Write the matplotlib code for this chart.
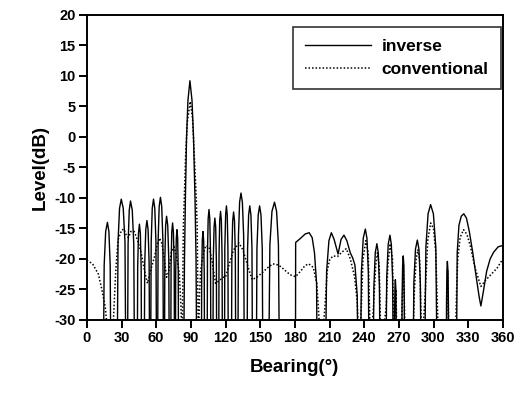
import numpy as np
import matplotlib
matplotlib.use("Agg")
import matplotlib.pyplot as plt

plt.rcParams['font.family'] = ['Liberation Sans', 'DejaVu Sans']
plt.rcParams['axes.unicode_minus'] = False

# inverse beamformer output (bearing in deg, level in dB); values below -30 are clipped nulls
inv_bearing = [0,
               14, 15.0, 16.3, 17.8, 19.1, 20.2, 21,
               26, 27.0, 28.3, 29.8, 31.5, 33.0, 34,
               35, 35.7, 36.7, 37.8, 39.3, 40.6, 41.5,
               43.5, 44.0, 44.7, 45.5, 46.3, 47.0, 47.5,
               49.5, 50.1, 51.0, 52, 53.0, 53.9, 54.5,
               55, 55.7, 56.6, 57.7, 58.8, 59.8, 60.5,
               61, 61.7, 62.6, 63.7, 64.8, 65.8, 66.5,
               67, 67.5, 68.2, 69, 70.0, 70.9, 71.5,
               72.5, 72.9, 73.5, 74.2, 74.9, 75.6, 76,
               76.5, 76.9, 77.4, 78, 78.6, 79.1, 79.5,
               83.5, 84.5, 85.3, 86.3, 87.5, 89.2, 91, 92.3, 93.6, 94.5, 95.3,
               99, 99.4, 99.9, 100.5, 101.1, 101.6, 102,
               104, 104.4, 105.0, 105.7, 106.4, 107.0, 107.5,
               109, 109.4, 110.1, 110.8, 111.5, 112.1, 112.5,
               114, 114.4, 115.0, 115.7, 116.4, 117.0, 117.5,
               119, 119.4, 120.1, 120.8, 121.5, 122.1, 122.5,
               125, 125.5, 126.2, 127, 127.8, 128.5, 129,
               130.5, 131.2, 132.2, 133.4, 134.6, 135.7, 136.5,
               138.5, 139.1, 140.0, 141, 142.0, 142.9, 143.5,
               146.5, 147.2, 148.3, 149.5, 150.7, 151.8, 152.5,
               157, 158.4, 160.2, 162.4, 164.2, 165.8, 167,
               180.5, 180.7, 185, 189, 192.4, 195, 197, 198.8, 199.6,
               206, 207.5, 209.5, 211.6, 214, 217.4, 220, 222.5, 225, 228, 230, 232, 234, 235,
               236.5, 237.6, 239.2, 241, 242.4, 243.6, 244.5,
               247.5, 248.4, 249.6, 251, 252.2, 253.2, 254,
               258.5, 259.5, 260.8, 262.3, 263.5, 264.6, 265.5,
               266, 266.25, 266.6, 267, 267.4, 267.75, 268,
               272.5, 272.8, 273.3, 273.8, 274.3, 274.7, 275,
               282, 283, 284.4, 286, 287.4, 288.6, 289.5,
               292, 293.4, 295.3, 297.5, 299.9, 302, 303.5,
               311, 311.25, 311.6, 312, 312.5, 312.9, 313.2,
               319.6, 320.5, 322, 324, 326.2, 328.5, 331, 334, 337, 339.5, 341,
               343, 346, 349, 352, 356, 360]
inv_level = [-45,
             -45, -21, -15.5, -14.0, -15.5, -21, -45,
             -45, -17.2, -11.7, -10.2, -11.7, -17.2, -45,
             -45, -17.5, -12, -10.5, -12, -17.5, -45,
             -45, -21.3, -15.8, -14.3, -15.8, -21.3, -45,
             -45, -20.7, -15.2, -13.7, -15.2, -20.7, -45,
             -45, -17.2, -11.7, -10.2, -11.7, -17.2, -45,
             -45, -16.9, -11.4, -9.9, -11.4, -16.9, -45,
             -45, -20, -14.5, -13, -14.5, -20, -45,
             -45, -21.1, -15.6, -14.1, -15.6, -21.1, -45,
             -45, -22.2, -16.7, -15.2, -16.7, -22.2, -45,
             -45, -20, -10, 0, 6, 9.2, 6, 0, -10, -20, -45,
             -45, -22.5, -17, -15.5, -17, -22.5, -45,
             -45, -18.9, -13.4, -11.9, -13.4, -18.9, -45,
             -45, -20.3, -14.8, -13.3, -14.8, -20.3, -45,
             -45, -19.2, -13.7, -12.2, -13.7, -19.2, -45,
             -45, -18.3, -12.8, -11.3, -12.8, -18.3, -45,
             -45, -19.3, -13.8, -12.3, -13.8, -19.3, -45,
             -45, -16.2, -10.7, -9.2, -10.7, -16.2, -45,
             -45, -18.3, -12.8, -11.3, -12.8, -18.3, -45,
             -45, -18.3, -12.8, -11.3, -12.8, -18.3, -45,
             -45, -17.7, -12.2, -10.7, -12.2, -17.7, -45,
             -45, -17.3, -16.6, -15.9, -15.7, -16.5, -19, -24, -45,
             -45, -22, -17, -15.7, -16.8, -19.2, -16.8, -16.1, -17, -19, -19.8, -21, -26, -45,
             -45, -22.1, -16.6, -15.1, -16.6, -22.1, -45,
             -45, -24.5, -19, -17.5, -19, -24.5, -45,
             -45, -23.1, -17.6, -16.1, -17.6, -23.1, -45,
             -45, -30.4, -24.9, -23.4, -24.9, -30.4, -45,
             -45, -26.5, -21, -19.5, -21, -26.5, -45,
             -45, -23.9, -18.4, -16.9, -18.4, -23.9, -45,
             -45, -18.1, -12.6, -11.1, -12.6, -18.1, -45,
             -45, -27.4, -21.9, -20.4, -21.9, -27.4, -45,
             -45, -19, -14.5, -13, -12.6, -13.3, -15.5, -19, -23, -26.2, -27.7,
             -25.5, -22, -20, -18.9, -18.0, -17.8]

# conventional beamformer output
conv_bearing = [0, 5, 10, 13, 16, 18, 21, 23, 25, 27, 30, 32, 34, 36, 38, 41, 44, 47, 50,
                52.5, 55, 58.6, 61, 63, 65, 67, 69, 71, 73, 75.6, 78, 80, 81.5,
                82.5, 83.5, 84.3, 85.5, 87, 89.5, 91.5, 93, 94.7, 95.5, 96.5,
                97.5, 98.5, 101, 103, 105.7, 108, 111.4, 115, 118, 120, 123, 127, 131.7, 135,
                139, 143, 147, 151.5, 156, 161, 166, 170.5, 176, 180.7, 185, 188.7, 192, 196,
                199, 201, 203, 206, 208, 210, 213, 217, 220, 224.5, 228, 231.7, 234, 235.5,
                237.5, 239, 241.5, 243.5, 245.5, 248, 250, 251.5, 253, 254.5,
                259, 260.5, 262.5, 264.5, 266, 267.5, 268.5, 272.5, 274, 275.5,
                282, 283.5, 285, 286.5, 288, 290, 293, 295, 297.5, 300, 302, 304.5,
                311, 312.3, 313.5, 319, 320, 321, 323, 326, 329, 332, 336, 341, 345, 350, 355, 360]
conv_level = [-20.2, -20.8, -22.5, -25, -28, -32, -35, -30, -22, -16.9, -15.3, -15.1, -16, -16.5,
              -15.5, -15.5, -17, -19, -22,
              -24, -22, -19.6, -17.5, -16.6, -17.5, -20, -23, -22, -19, -18, -20, -22.3, -28,
              -35, -15, -10, -3, 2.5, 5.8, 3, -3, -10, -15, -35,
              -26, -21.8, -19, -17.8, -18, -20, -24, -23.5, -23, -23, -21, -18.5, -17.4, -18.5,
              -21, -23.4, -23, -22.3, -21.5, -20.8, -21, -21.7, -22.6, -22.9, -22, -21.1, -20.8, -21.4,
              -24, -30, -35, -28, -22, -20.2, -19.5, -19.6, -19, -18.3, -20, -22.9, -27, -35,
              -28, -20, -17, -19, -35, -28, -21, -19, -21, -35,
              -28, -21, -17.5, -20, -35, -25, -35, -30, -21, -33,
              -35, -25, -20, -18.5, -20, -35, -25, -17, -14.1, -15, -19, -35,
              -35, -22, -35, -33, -25, -20, -16.5, -15.2, -16, -18, -21.5, -24.5, -23.5, -22.5,
              -21.5, -20]

fig = plt.figure(figsize=(5.2, 4.01), dpi=100)
ax = fig.add_axes([0.167, 0.202, 0.800, 0.761])

ax.plot(inv_bearing, inv_level, color='black', lw=1.0, label='inverse')
ax.plot(conv_bearing, conv_level, color='black', lw=1.1, ls=(0, (1, 1.3)), label='conventional')

ax.set_xlim(0, 360)
ax.set_ylim(-30, 20)
ax.set_xticks(np.arange(0, 361, 30))
ax.set_yticks(np.arange(-30, 21, 5))
ax.tick_params(direction='out', length=6, width=1.4, labelsize=10.5, pad=2)
for lbl in ax.get_xticklabels() + ax.get_yticklabels():
    lbl.set_fontweight('bold')
for s in ax.spines.values():
    s.set_linewidth(1.4)

ax.set_xlabel('Bearing(°)', fontsize=13.5, fontweight='bold', labelpad=10)
ax.set_ylabel('Level(dB)', fontsize=13.5, fontweight='bold', labelpad=4)

leg = ax.legend(loc='upper right', bbox_to_anchor=(0.995, 0.961), borderaxespad=0,
                prop={'size': 12.5, 'weight': 'bold'},
                frameon=True, fancybox=False, edgecolor='black', handlelength=3.8,
                handletextpad=0.6, borderpad=0.7, labelspacing=0.45)
leg.get_frame().set_linewidth(1.2)

fig.savefig('out.png', dpi=100)
